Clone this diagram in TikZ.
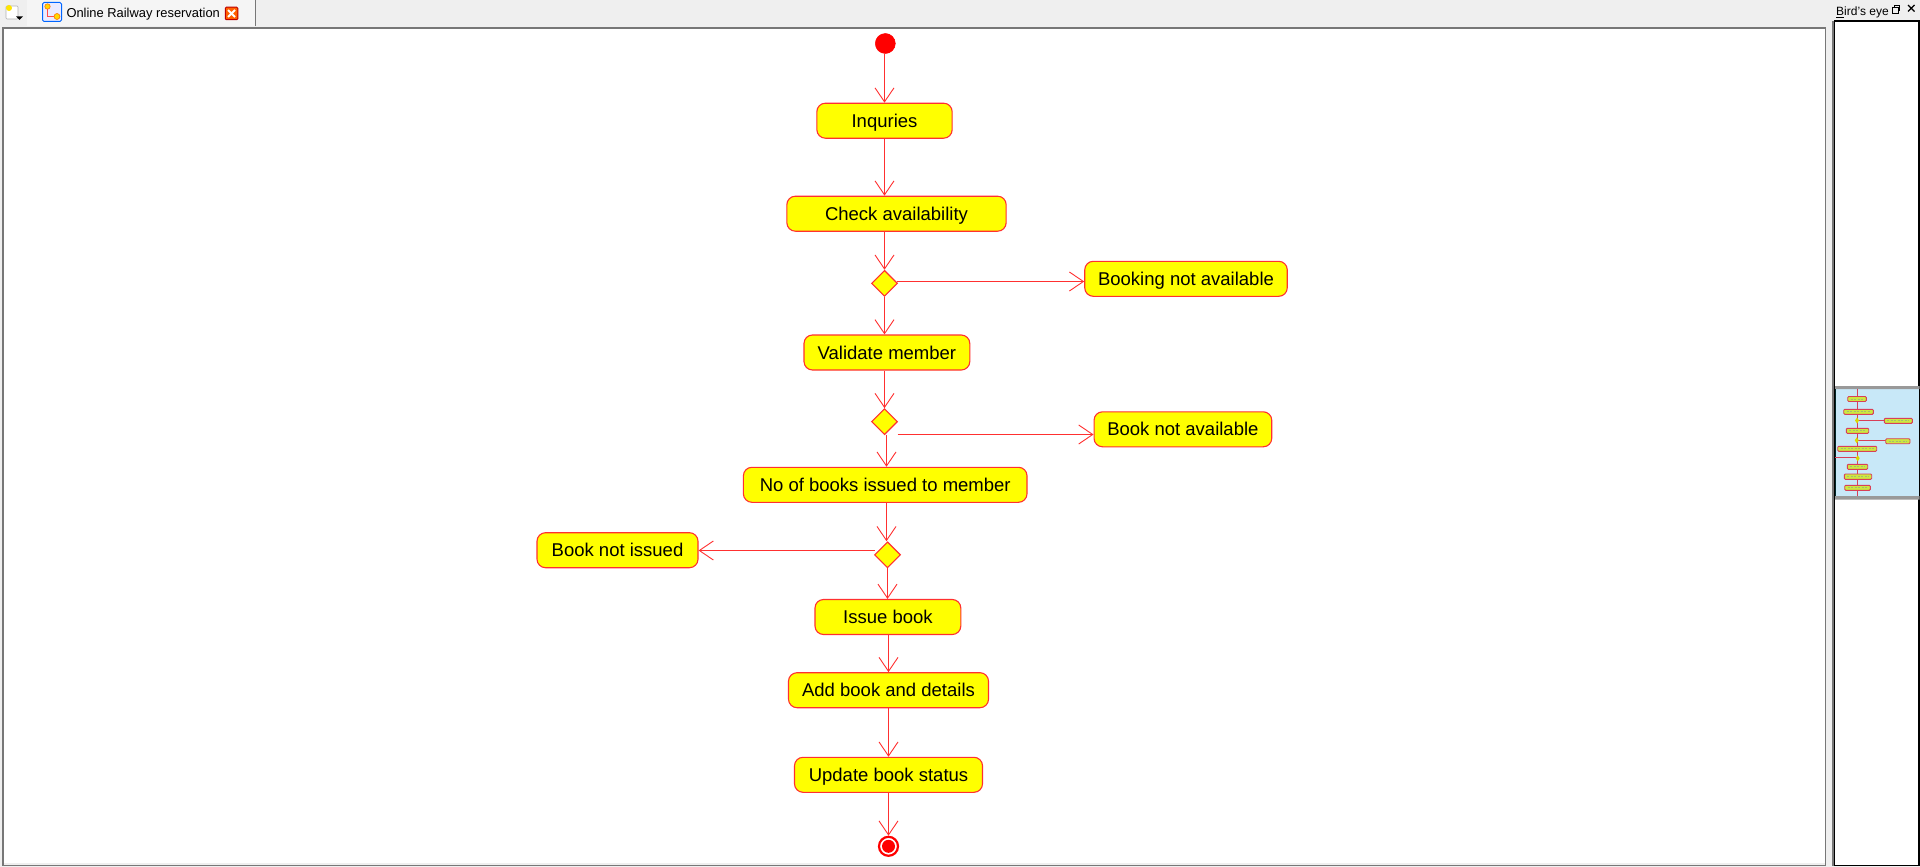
\documentclass[tikz,border=0pt]{standalone}
\usepackage{fontspec}
\setmainfont{Liberation Sans}
\usetikzlibrary{arrows.meta,shapes.geometric}
\definecolor{linered}{RGB}{255,48,48}
\definecolor{pureyellow}{RGB}{255,255,0}
\definecolor{purered}{RGB}{255,0,0}
\definecolor{chrome}{HTML}{EFEFEF}
\definecolor{framegray}{HTML}{777777}
\definecolor{thumbbg}{HTML}{C8E8F8}
\definecolor{thumbfill}{HTML}{CCE840}
\definecolor{thumbline}{HTML}{D84058}
\definecolor{thumbtxt}{HTML}{A8B870}
\tikzset{
  activity/.style={draw=linered,fill=pureyellow,line width=1.1pt,rounded corners=8.5pt,inner sep=0pt,minimum height=35pt,text height=13.3pt,text depth=0pt,font=\fontsize{18.5}{20}\selectfont,text=black},
  decision/.style={draw=linered,fill=pureyellow,line width=1.1pt,diamond,aspect=1,inner sep=0pt,minimum width=26pt,minimum height=26pt},
  conn/.style={draw=linered,line width=1pt,-{Straight Barb[length=14pt,width=19pt,line width=0.9pt]}},
  thumbnode/.style={draw=thumbline,fill=thumbfill,line width=0.9pt,rounded corners=1pt},
  thumbtext/.style={draw=thumbtxt,line width=0.9pt,dash pattern=on 2pt off 1.5pt},
  thumbwire/.style={draw=thumbline,line width=1pt}
}
\begin{document}
\begin{tikzpicture}[x=1pt,y=-1pt]
\useasboundingbox (0,0) rectangle (1920,867);
% chrome
\fill[chrome] (0,0) rectangle (1920,867);
\fill[white] (4,29.5) rectangle (1825,863);
\draw[framegray,line width=1.6pt] (3,865.5) -- (3,28) -- (1825.5,28) -- (1825.5,865.5) -- cycle;
% tab strip
\fill[white!96!black] (27,0) rectangle (255,26.5);
\draw[framegray,line width=1.2pt] (255.8,0) -- (255.8,26);
% menu icon
\fill[white,draw=black!30,line width=0.6pt,rounded corners=1pt] (6,6) rectangle (18,19);
\fill[pureyellow!80!orange] (9,8) circle (3pt);
\fill[black] (16,16.5) -- (23,16.5) -- (19.5,20) -- cycle;
% tab icon
\fill[blue!8!white,draw=blue!60!cyan,line width=1pt,rounded corners=1.5pt] (42.5,2.5) rectangle (61.5,21.5);
\fill[pureyellow!70!orange,draw=orange!90!red,line width=0.6pt] (47.5,6.5) circle (2.7pt);
\fill[pureyellow!70!orange,draw=orange!90!red,line width=0.6pt] (57,16.5) circle (3pt);
\draw[red!70!white,line width=1pt] (47.5,9.5) -- (47.5,16.5) -- (54,16.5);
\node[anchor=base west,inner sep=0pt,font=\fontsize{12.9}{15}\selectfont] (tabtitle) at (66.3,18) {Online Railway reservation};
% close icon
\node[draw=red!75!black,fill=orange!75!red,line width=1pt,rounded corners=1pt,minimum size=12.5pt,inner sep=0pt] (tabclose) at (231.5,13.5) {};
\draw[white,line width=2pt] (228,10) -- (235,17) (235,10) -- (228,17);
% bird's eye panel
\fill[white] (1834,21) rectangle (1919.5,866);
\draw[black,line width=1.4pt] (1834.5,865.5) -- (1834.5,21) -- (1919,21) -- (1919,865.5) -- cycle;
\draw[framegray,line width=1.2pt] (1833,21) -- (1833,866);
\node[anchor=base west,inner sep=0pt,font=\fontsize{12}{14}\selectfont] (birdtitle) at (1836,15.5) {Bird's eye};
\draw[black,line width=0.8pt] (1836,17) -- (1844,17);
\draw[black,line width=0.9pt] (1892,7.5) rectangle (1898,13) (1894,7.5) -- (1894,5) -- (1899.5,5) -- (1899.5,10.5) -- (1898,10.5);
\draw[black,line width=1.2pt] (1908,5) -- (1914.5,11.5) (1914.5,5) -- (1908,11.5);
% bird's eye viewport
\fill[thumbbg] (1835,389) rectangle (1918.5,496);
\fill[black!40] (1835,386) rectangle (1919.5,389) (1835,496) rectangle (1919.5,499.5);
\draw[black!70!teal,line width=1pt] (1835,389) -- (1835,496);
\draw[thumbwire] (1857,389) -- (1857,496);
\draw[thumbwire] (1857,420.7) -- (1884,420.7);
\draw[thumbwire] (1857,440.3) -- (1886,440.3);
\draw[thumbwire] (1835,457.5) -- (1857,457.5);
\foreach \xa/\xb/\ya/\yb in {
 1847.7/1866.3/396.5/401.5,
 1843.7/1873.3/409.3/414.3,
 1884.3/1912.3/418.3/423.3,
 1846.3/1868.7/428.3/433.3,
 1885.7/1910/438.7/443.7,
 1837.7/1876.7/446.3/451.3,
 1847.3/1867.7/464.3/469.3,
 1844.3/1871.7/474/479.3,
 1844.7/1870.3/485.3/490.3}{
  \draw[thumbnode] (\xa,\ya) rectangle (\xb,\yb);
  \draw[thumbtext] (\xa+3,\ya/2+\yb/2) -- (\xb-3,\ya/2+\yb/2);
}
\fill[pureyellow!85!black] (1857,417.5) -- (1859,420.5) -- (1857,423.5) -- (1855,420.5) -- cycle;
\fill[pureyellow!85!black] (1856.7,437.3) -- (1858.7,440.3) -- (1856.7,443.3) -- (1854.7,440.3) -- cycle;
\fill[pureyellow!85!black] (1857.7,455.3) -- (1859.7,458.3) -- (1857.7,461.3) -- (1855.7,458.3) -- cycle;
% diagram nodes
\node[circle,fill=purered,draw=purered,line width=0.5pt,minimum size=20pt,inner sep=0pt] (start) at (885.3,43.5) {};
\node[activity,minimum width=135.3pt] (inq) at (884.5,120.7) {Inquries};
\node[activity,minimum width=219.3pt] (check) at (896.5,213.7) {Check availability};
\node[decision] (d1) at (884.5,283.3) {};
\node[activity,minimum width=202.5pt] (booking) at (1186,278.8) {Booking not available};
\node[activity,minimum width=165.8pt] (validate) at (886.9,352.5) {Validate member};
\node[decision] (d2) at (884.5,421.7) {};
\node[activity,minimum width=177.7pt] (bookna) at (1182.9,429.3) {Book not available};
\node[activity,minimum width=283.6pt] (issued) at (885.2,484.8) {No of books issued to member};
\node[decision] (d3) at (887.5,554.8) {};
\node[activity,minimum width=161pt] (notissued) at (617.5,550.2) {Book not issued};
\node[activity,minimum width=145.8pt] (issue) at (887.9,617) {Issue book};
\node[activity,minimum width=200pt] (add) at (888.5,690.2) {Add book and details};
\node[activity,minimum width=188pt] (update) at (888.5,774.8) {Update book status};
\node[circle,draw=purered,fill=white,line width=2.2pt,minimum size=19pt,inner sep=0pt] (finish) at (888.5,846.3) {};
\node[circle,fill=purered,minimum size=13pt,inner sep=0pt] (finishdot) at (finish.center) {};
% free ends of the connectors that leave a decision off its corners
\coordinate (d1out) at (897,281.5);
\coordinate (d2out) at (897.6,434.5);
\coordinate (d2down) at (886.5,434.7);
\coordinate (d3in) at (886.5,502.3);
\coordinate (d3left) at (875.2,550.5);
% connectors
\draw[conn] (inq.north |- start.south) -- (inq.north);
\draw[conn] (inq.south) -- (inq.south |- check.north);
\draw[conn] (d1.north |- check.south) -- (d1.north);
\draw[conn] (d1.south) -- (d1.south |- validate.north);
\draw[conn] (d1out) -- (d1out -| booking.west);
\draw[conn] (d2.north |- validate.south) -- (d2.north);
\draw[conn] (d2down) -- (d2down |- issued.north);
\draw[conn] (d2out) -- (d2out -| bookna.west);
\draw[conn] (d3in) -- (d3in |- d3.north);
\draw[conn] (d3.south) -- (d3.south |- issue.north);
\draw[conn] (d3left) -- (d3left -| notissued.east);
\draw[conn] (add.north |- issue.south) -- (add.north);
\draw[conn] (add.south) -- (update.north);
\draw[conn] (update.south) -- (finish.north);
\end{tikzpicture}
\end{document}
